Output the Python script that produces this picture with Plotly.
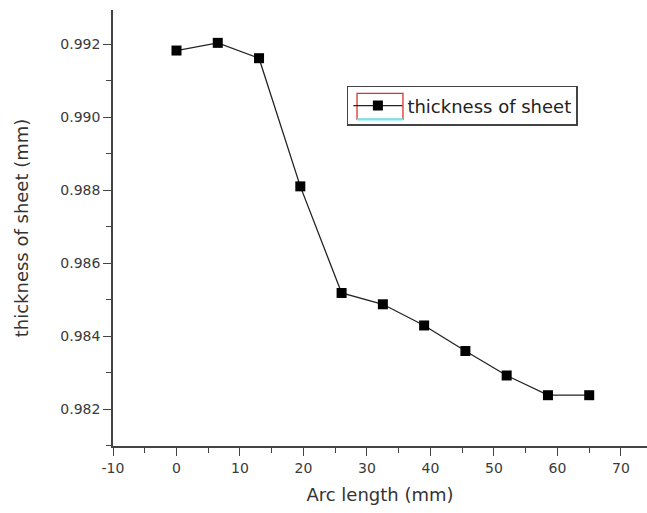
import plotly.graph_objects as go

arc_length = [0, 6.5, 13, 19.5, 26, 32.5, 39, 45.5, 52, 58.5, 65]
thickness = [0.99183, 0.99204, 0.99162, 0.98811, 0.98519, 0.98488, 0.98430, 0.98360, 0.98293, 0.98239, 0.98239]
series_name = "thickness of sheet"
x_ticks = [-10, 0, 10, 20, 30, 40, 50, 60, 70]
y_ticks = [0.982, 0.984, 0.986, 0.988, 0.990, 0.992]

FONT = "DejaVu Sans, Liberation Sans, Arial"

fig = go.Figure()
fig.add_trace(go.Scatter(
    x=arc_length, y=thickness, mode="lines+markers", name=series_name,
    line=dict(color="#222222", width=1.3),
    marker=dict(symbol="square", size=10, color="black"),
))

axis_common = dict(
    showline=True, linecolor="#444444", linewidth=1.6, mirror=False,
    ticks="outside", ticklen=8, tickwidth=1.4, tickcolor="#444444",
    showgrid=False, zeroline=False,
    tickfont=dict(family=FONT, size=14, color="#3a3a3a"),
    title_font=dict(family=FONT, size=18, color="#333333"),
)

fig.update_layout(
    width=647, height=513,
    margin=dict(l=113, r=0, t=10, b=67),
    plot_bgcolor="white", paper_bgcolor="white",
    showlegend=True,
    legend=dict(
        x=0.438, y=0.826, xanchor="left", yanchor="top",
        bordercolor="#444444", borderwidth=1.5, bgcolor="rgba(0,0,0,0)",
        font=dict(family=FONT, size=18, color="#222222"),
        tracegroupgap=0, itemwidth=49,
    ),
    xaxis=dict(
        **axis_common, range=[-10, 74.1], tickvals=x_ticks,
        ticktext=[str(v) for v in x_ticks],
        minor=dict(dtick=5, tick0=-10, ticks="outside", ticklen=5, tickwidth=1.2, tickcolor="#444444"),
        title=dict(text="Arc length (mm)", standoff=14),
    ),
    yaxis=dict(
        **axis_common, range=[0.980999, 0.99294], tickvals=y_ticks,
        ticktext=[f"{v:.3f}" for v in y_ticks],
        minor=dict(dtick=0.001, tick0=0.981, ticks="outside", ticklen=5, tickwidth=1.2, tickcolor="#444444"),
        title=dict(text="thickness of sheet (mm)", standoff=27),
    ),
    shapes=[
        dict(type="rect", xref="paper", yref="paper", x0=0.457, x1=0.543, y0=0.749, y1=0.8087,
             line=dict(color="#e03030", width=1.3), layer="above"),
        dict(type="line", xref="paper", yref="paper", x0=0.457, x1=0.543, y0=0.749, y1=0.749,
             line=dict(color="#6ee8ee", width=2.2), layer="above"),
    ],
)

fig.write_html("out.html")
